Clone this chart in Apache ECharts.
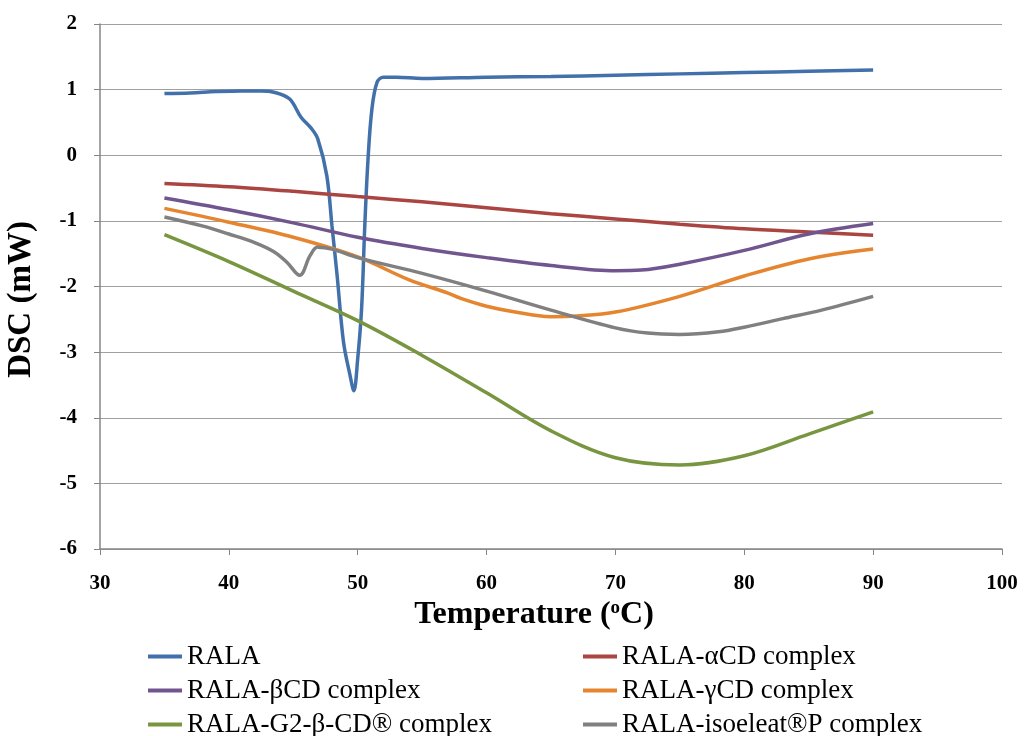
<!DOCTYPE html>
<html>
<head>
<meta charset="utf-8">
<title>DSC</title>
<script src="https://cdn.jsdelivr.net/npm/echarts@6/dist/echarts.min.js"></script>
<style>
  html, body { margin: 0; padding: 0; background: #fff; }
  #dsc { width: 1024px; height: 736px; }
</style>
</head>
<body>
<div id="dsc"></div>
<script>
// series names
const names = [
  'RALA',
  'RALA-αCD complex',
  'RALA-βCD complex',
  'RALA-γCD complex',
  'RALA-G2-β-CD® complex',
  'RALA-isoeleat®P complex',
];
const colors = ['#4170AB', '#AA4542', '#71558F', '#E5852F', '#789540', '#808080'];

// [temperature, DSC]
const rala = [
  [35, 0.94], [37, 0.95], [39, 0.97], [41, 0.98], [42.5, 0.98], [43.5, 0.96],
  [44.7, 0.86], [45.6, 0.58], [46.4, 0.41], [46.9, 0.25], [47.6, -0.31],
  [48.0, -1.07], [48.4, -1.83], [48.9, -2.85], [49.4, -3.35], [49.7, -3.59],
  [50.0, -3.1], [50.3, -2.34], [50.55, -1.07], [50.8, -0.06], [51.1, 0.7],
  [51.5, 1.11], [52.0, 1.19], [53, 1.19], [55, 1.17], [60, 1.19], [65, 1.2],
  [70, 1.22], [75, 1.24], [80, 1.26], [85, 1.28], [90, 1.3],
];
const alphaCD = [
  [35, -0.43], [40, -0.48], [45, -0.55], [50, -0.63], [55, -0.71], [60, -0.8],
  [65, -0.89], [70, -0.97], [75, -1.05], [80, -1.12], [85, -1.17], [90, -1.22],
];
const betaCD = [
  [35, -0.65], [40, -0.83], [45, -1.03], [50, -1.25], [55, -1.42], [60, -1.56],
  [65, -1.68], [70, -1.76], [72, -1.75], [75, -1.66], [80, -1.45], [85, -1.2], [90, -1.04],
];
const gammaCD = [
  [35, -0.81], [40, -1.02], [45, -1.25], [50, -1.55], [54, -1.9], [57, -2.1],
  [58, -2.18], [60, -2.3], [62, -2.38], [65, -2.46], [67, -2.45], [70, -2.39],
  [75, -2.15], [80, -1.84], [85, -1.58], [90, -1.43],
];
const g2BetaCD = [
  [35, -1.21], [40, -1.62], [45, -2.07], [50, -2.52], [55, -3.05], [60, -3.62],
  [65, -4.2], [70, -4.61], [75, -4.72], [80, -4.58], [85, -4.25], [90, -3.91],
];
const isoeleat = [
  [35, -0.94], [38, -1.08], [40, -1.2], [42, -1.33], [43.5, -1.47], [44.5, -1.63],
  [45.5, -1.83], [46.3, -1.53], [46.9, -1.4], [48, -1.43], [50, -1.56], [55, -1.8],
  [60, -2.07], [65, -2.36], [70, -2.63], [72.5, -2.71], [75, -2.73], [78, -2.69],
  [80, -2.62], [83, -2.49], [86, -2.36], [90, -2.15],
];
const allData = [rala, alphaCD, betaCD, gammaCD, g2BetaCD, isoeleat];

const serif = '"Liberation Serif", "Times New Roman", serif';
const chart = echarts.init(document.getElementById('dsc'));

const legendBase = {
  orient: 'vertical',
  top: 638,
  height: 200,
  itemWidth: 34,
  itemHeight: 4,
  itemGap: 7,
  icon: 'rect',
  textStyle: { fontFamily: serif, fontSize: 27, color: '#000', lineHeight: 26 },
};

const option = {
  animation: false,
  backgroundColor: '#fff',
  grid: { left: 100, right: 22, top: 24, height: 525, outerBoundsMode: 'none' },
  legend: [
    Object.assign({}, legendBase, { left: 143, data: [names[0], names[2], names[4]] }),
    Object.assign({}, legendBase, { left: 578, data: [names[1], names[3], names[5]] }),
  ],
  xAxis: {
    type: 'value',
    min: 30,
    max: 100,
    interval: 10,
    name: 'Temperature ({sup|o}C)',
    nameLocation: 'middle',
    nameGap: 45,
    nameTextStyle: {
      fontFamily: serif, fontSize: 32, fontWeight: 'bold', color: '#000',
      padding: [0, 34, 0, 0],
      rich: { sup: { fontFamily: serif, fontSize: 19, fontWeight: 'bold', verticalAlign: 'top', padding: [0, 0, 12, 0] } },
    },
    axisLine: { onZero: false, lineStyle: { color: '#868686', width: 1.5 } },
    axisTick: { length: 6, lineStyle: { color: '#868686' } },
    axisLabel: { fontFamily: serif, fontSize: 21, fontWeight: 'bold', color: '#000', margin: 24 },
    splitLine: { show: false },
  },
  yAxis: {
    type: 'value',
    min: -6,
    max: 2,
    interval: 1,
    name: 'DSC (mW)',
    nameLocation: 'middle',
    nameGap: 62,
    nameTextStyle: { fontFamily: serif, fontSize: 33, fontWeight: 'bold', color: '#000', padding: [0, 26, 0, 0] },
    axisLine: { show: true, onZero: false, lineStyle: { color: '#868686', width: 1.5 } },
    axisTick: { show: true, length: 6, lineStyle: { color: '#868686' } },
    axisLabel: { fontFamily: serif, fontSize: 21, fontWeight: 'bold', color: '#000', margin: 23, padding: [5, 0, 0, 0] },
    splitLine: { lineStyle: { color: '#A0A0A0', width: 1.2 } },
  },
  series: allData.map((d, i) => ({
    name: names[i],
    type: 'line',
    data: d,
    smooth: 0.35,
    showSymbol: false,
    color: colors[i],
    lineStyle: { color: colors[i], width: 3.5 },
    itemStyle: { color: colors[i] },
  })),
};

chart.setOption(option);
window.addEventListener('resize', () => {
  chart.resize();
});
</script>
</body>
</html>
